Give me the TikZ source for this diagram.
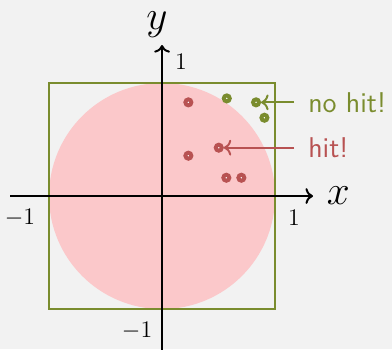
\documentclass[tikz,border=0pt]{standalone}
\usepackage{tikz}
\usetikzlibrary{positioning, arrows.meta}
\definecolor{bgray}{RGB}{242,242,242}
\definecolor{olive}{RGB}{122,140,46}
\definecolor{hitred}{RGB}{184,82,82}
\definecolor{pinkdisc}{RGB}{251,200,202}
\tikzset{
  axis/.style={->, >=To, line width=1pt, black},
  dart/.style={
    circle, draw=#1, fill=white, line width=2pt,
    minimum size=3pt, inner sep=0pt
  },
  tick/.style={font=\large},
  lbl/.style={font=\Large\sffamily, anchor=west, inner xsep=7pt},
  pointer/.style={->, >=To, line width=1pt, #1}
}

\begin{document}
\begin{tikzpicture}[x=2cm, y=2cm]
  \fill[bgray] (-1.434,-1.354) rectangle (2.035,1.735);
  \useasboundingbox (-1.434,-1.354) rectangle (2.035,1.735);

  % disc and square
  \fill[pinkdisc] (0,0) circle (1);
  \draw[olive, line width=1pt] (-1,-1) rectangle (1,1);

  % axes
  \draw[axis] (-1.345,0) -- (1.336,0);
  \draw[axis] (0,-1.4) -- (0,1.336);
  \node (xlbl) at (1.56,0) {\huge$x$};
  \node[inner sep=1pt] (ylbl) at (-0.044,1.52) {\huge$y$};
  \node[tick] (ytop) at (0.168,1.186) {$1$};
  \node[tick] (xleft) at (-1.257,-0.195) {$-1$};
  \node[tick] (xright) at (1.168,-0.195) {$1$};
  \node[tick] (ybot) at (-0.221,-1.195) {$-1$};

  % samples
  \foreach \p/\q [count=\i] in {0.233/0.829, 0.233/0.357, 0.502/0.428, 0.569/0.162, 0.702/0.162}
    \node[dart=hitred] (h\i) at (\p,\q) {};
  \foreach \p/\q [count=\i] in {0.573/0.864, 0.832/0.829, 0.906/0.693}
    \node[dart=olive] (m\i) at (\p,\q) {};

  \node[lbl, text=olive] (nohit) at (1.168,0.829) {no hit!};
  \node[lbl, text=hitred] (hit) at (1.168,0.428) {hit!};
  \draw[pointer=olive] (nohit.west) -- (m2);
  \draw[pointer=hitred] (hit.west) -- (h3);
\end{tikzpicture}
\end{document}
